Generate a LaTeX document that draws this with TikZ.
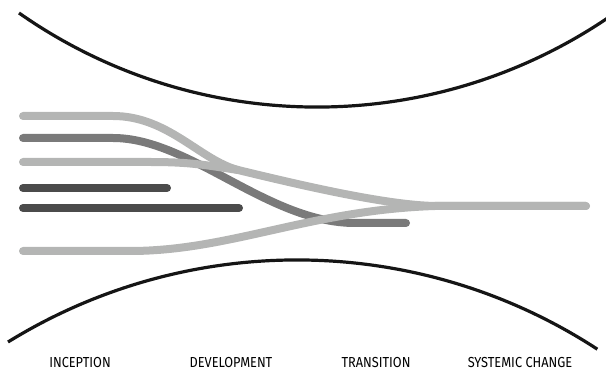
\documentclass[tikz,border=0pt]{standalone}
\usepackage{fontspec}
\setmainfont{Fira Sans}[FakeStretch=0.88]
\definecolor{strandlight}{HTML}{B4B5B4}
\definecolor{strandmid}{HTML}{7A7A7A}
\definecolor{stranddark}{HTML}{4B4B4B}
\definecolor{boundary}{HTML}{151515}
\begin{document}
\begin{tikzpicture}[x=1pt,y=-1pt,
  strand/.style={line width=8pt, line cap=round, line join=round},
  lightstrand/.style={strand, draw=strandlight},
  midstrand/.style={strand, draw=strandmid},
  darkstrand/.style={strand, draw=stranddark},
  bound/.style={line width=3.2pt, draw=boundary},
  phase/.style={font=\fontsize{14.5}{16}\selectfont, anchor=base, inner sep=0pt}]
\useasboundingbox (0,0) rectangle (606,371);

% outer boundaries of the funnel
\coordinate (topL) at (19,13);
\coordinate (botL) at (8,342);
\draw[bound] (topL) arc[start angle=125.04, end angle=55, radius=519];
\draw[bound] (botL) arc[start angle=-121.7, end angle=-56.9, radius=550];

% strand end points
\coordinate (s1) at (23,116);
\coordinate (s2) at (23,138);
\coordinate (s3) at (23,162);
\coordinate (s4) at (23,188);
\coordinate (s5) at (23,208);
\coordinate (s6) at (23,251);
\coordinate (e2) at (406,223);
\coordinate (e4) at (167,188);
\coordinate (e5) at (239,208);
\coordinate (join) at (238,170);
\coordinate (flat) at (435,206);
\coordinate (goal) at (586,206);

% strands that stop early
\draw[darkstrand] (s4) -- (e4);
\draw[darkstrand] (s5) -- (e5);
\draw[midstrand] (s2) -- (113,138) .. controls (190,138) and (268,223) .. (355,223) -- (e2);

% strands that reach systemic change
\draw[lightstrand] (s3) -- (150,162) .. controls (190,162) and (205,165) .. (join);
\draw[lightstrand] (s6) -- (130,251) .. controls (230,251) and (310,210) .. (flat) -- (goal);
\draw[lightstrand] (s1) -- (113,116) .. controls (168,116) and (200,160) .. (join)
  .. controls (300,185) and (385,205) .. (flat) -- (goal);

% phase labels
\node[phase] (inception) at (80,368) {INCEPTION};
\node[phase] (development) at (231,368) {DEVELOPMENT};
\node[phase] (transition) at (376,368) {TRANSITION};
\node[phase] (systemic) at (520,368) {SYSTEMIC CHANGE};
\end{tikzpicture}
\end{document}
